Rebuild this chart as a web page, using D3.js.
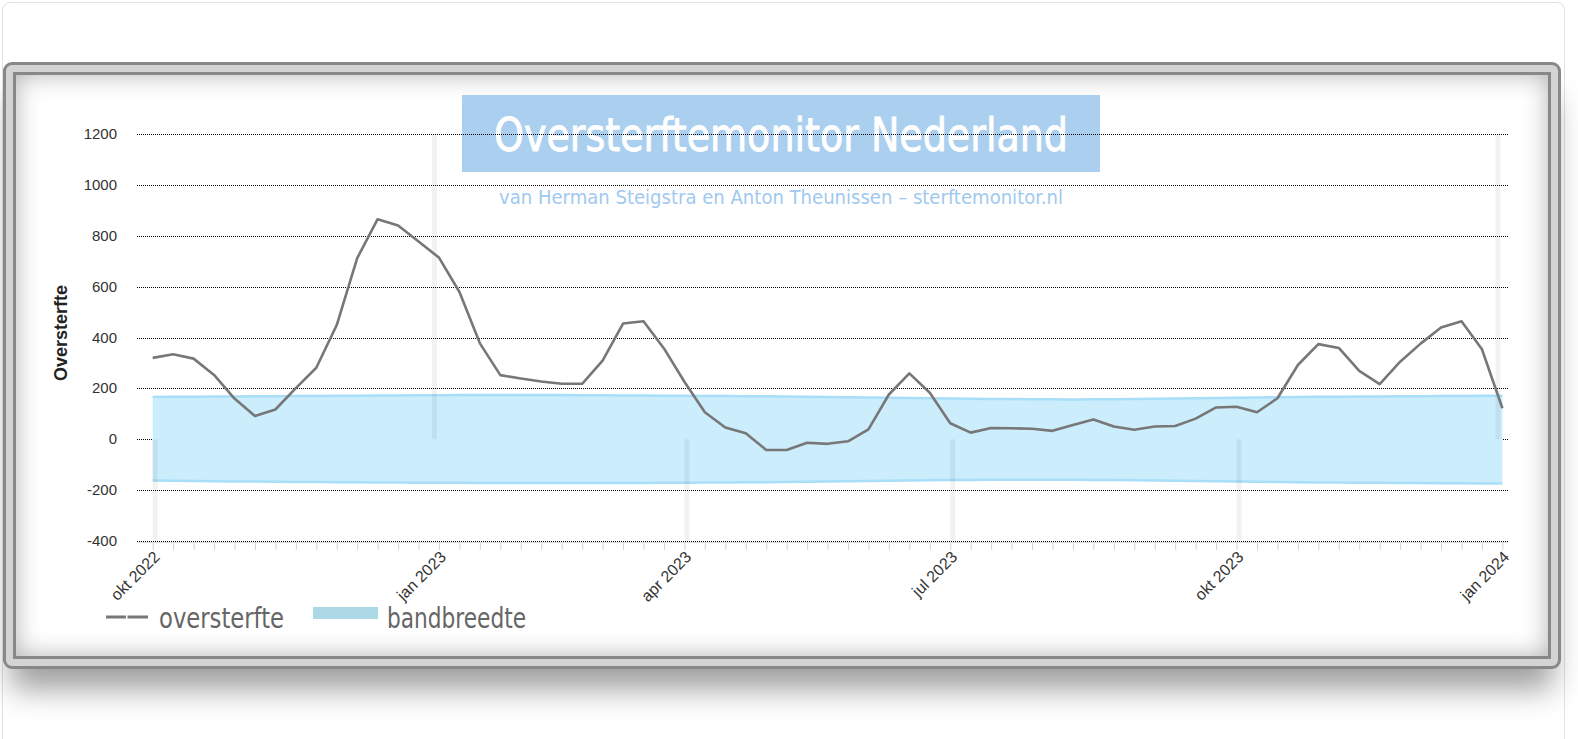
<!DOCTYPE html>
<html lang="nl">
  <head>
    <meta charset="UTF-8" />
    <script src="https://d3js.org/d3.v7.min.js"></script>
    <title>Oversterftemonitor Nederland</title>
    <style>
      html, body { margin: 0; padding: 0; background: #fff; }
      body { width: 1578px; height: 739px; position: relative; overflow: hidden; }
      .card {
        position: absolute; left: 2px; top: 2px; width: 1563px; height: 760px;
        border: 1px solid #e2e2e2; border-radius: 8px; box-sizing: border-box;
      }
      .frame {
        position: absolute; left: 3px; top: 62px; width: 1558px; height: 607px;
        box-sizing: border-box; border: 3px solid #888; border-radius: 9px;
        background: #d4d4d4; padding: 7px;
        box-shadow: 0 28px 30px -8px rgba(0, 0, 0, 0.38);
      }
      .inner {
        width: 100%; height: 100%; box-sizing: border-box;
        border: 3px solid #888; background: #fff;
        box-shadow: inset 0 0 24px rgba(0, 0, 0, 0.3);
      }
      #chart { position: absolute; left: 0; top: 0; }
    </style>
  </head>
  <body>
    <div class="card"></div>
    <div class="frame"><div class="inner"></div></div>
    <div id="chart"></div>
    <script>
      // weekly values, week 39 2022 .. week 1 2024
      const oversterfte = [
        320, 334, 317, 253, 160, 91, 117, 201, 281, 449,
        712, 865, 840, 777, 714, 579, 377, 252, 239, 227,
        218, 218, 309, 455, 464, 357, 226, 106, 46, 24,
        -42, -42, -14, -18, -8, 39, 176, 259, 183, 63,
        26, 44, 43, 41, 33, 56, 78, 50, 37, 50,
        52, 81, 125, 128, 106, 161, 292, 374, 359, 269,
        217, 305, 376, 439, 464, 354, 122
      ];
      const bandUpper = [
        166, 167, 167, 168, 168, 169, 169, 170, 170, 171,
        171, 172, 172, 173, 173, 174, 174, 174, 174, 174,
        174, 173, 173, 172, 172, 171, 171, 170, 170, 169,
        169, 168, 167, 166, 165, 164, 163, 162, 161, 160,
        159, 158, 158, 157, 157, 156, 157, 157, 158, 159,
        160, 161, 162, 163, 164, 165, 166, 167, 167, 168,
        168, 169, 169, 170, 170, 171, 171
      ];
      const bandLower = [
        -162, -163, -164, -165, -166, -166, -167, -168, -168, -169,
        -169, -170, -170, -171, -171, -171, -172, -172, -172, -172,
        -172, -172, -172, -172, -172, -171, -171, -170, -170, -169,
        -169, -168, -167, -166, -165, -164, -163, -162, -161, -160,
        -160, -159, -159, -159, -159, -159, -160, -160, -161, -162,
        -163, -164, -165, -166, -167, -168, -169, -170, -170, -171,
        -171, -172, -172, -173, -173, -174, -174
      ];
      const tickLabels = ["okt 2022", "jan 2023", "apr 2023", "jul 2023", "okt 2023", "jan 2024"];
      const tickWeeks = [0, 14, 26, 39, 53, 66];
      const yTicks = [-400, -200, 0, 200, 400, 600, 800, 1000, 1200];

      const W = 1578, H = 739;
      const svg = d3.select("#chart").append("svg")
        .attr("width", W).attr("height", H);

      const x = d3.scaleLinear().domain([0, oversterfte.length - 1]).range([152.7, 1502.4]);
      const y = d3.scaleLinear().domain([-400, 1200]).range([541, 134]);

      const narrow = "'Liberation Sans Narrow', 'DejaVu Sans Condensed', sans-serif";
      const arial = "'Liberation Sans', Arial, sans-serif";

      // title box
      svg.append("rect")
        .attr("x", 462).attr("y", 95).attr("width", 638).attr("height", 77)
        .attr("fill", "#abcfef");
      svg.append("text")
        .attr("x", 781).attr("y", 151)
        .attr("text-anchor", "middle")
        .attr("textLength", 574).attr("lengthAdjust", "spacingAndGlyphs")
        .style("font-family", narrow)
        .style("font-size", "47px").style("fill", "#fff")
        .style("stroke", "#fff").style("stroke-width", 0.8)
        .text("Oversterftemonitor Nederland");
      svg.append("text")
        .attr("x", 781).attr("y", 204)
        .attr("text-anchor", "middle")
        .attr("textLength", 564).attr("lengthAdjust", "spacingAndGlyphs")
        .style("font-family", narrow)
        .style("font-size", "20px").style("fill", "#9fc9ef")
        .text("van Herman Steigstra en Anton Theunissen \u2013 sterftemonitor.nl");

      // y gridlines + labels
      const yAxis = svg.append("g");
      yAxis.selectAll("line").data(yTicks).join("line")
        .attr("x1", 137).attr("x2", 1508)
        .attr("y1", d => Math.round(y(d)) + 0.5).attr("y2", d => Math.round(y(d)) + 0.5)
        .attr("stroke", "#000").attr("stroke-width", 1)
        .attr("shape-rendering", "crispEdges")
        .attr("stroke-dasharray", "1,1");
      yAxis.selectAll("text").data(yTicks).join("text")
        .attr("x", 117).attr("y", d => y(d) + 5)
        .attr("text-anchor", "end")
        .style("font-family", arial)
        .style("font-size", "15px").style("fill", "#333")
        .text(d => d);

      svg.append("text")
        .attr("transform", "translate(67, 333) rotate(-90)")
        .attr("text-anchor", "middle")
        .style("font-family", arial)
        .style("font-size", "18px").style("font-weight", "bold").style("fill", "#222")
        .text("Oversterfte");

      // x axis: weekly ticks, quarter labels
      const xAxis = d3.axisBottom(x)
        .tickValues(d3.range(oversterfte.length))
        .tickSize(8).tickFormat("");
      const gx = svg.append("g").attr("transform", "translate(0, 542)").call(xAxis);
      gx.select(".domain").remove();
      gx.selectAll(".tick line").attr("stroke", "#d4d4d4");
      svg.append("line")
        .attr("x1", 137).attr("x2", 1508).attr("y1", 542.5).attr("y2", 542.5)
        .attr("stroke", "#ddd").attr("stroke-width", 1);

      svg.append("g").selectAll("text").data(tickWeeks).join("text")
        .attr("transform", d => `translate(${x(d) + 8}, 558) rotate(-45)`)
        .attr("text-anchor", "end")
        .style("font-family", arial)
        .style("font-size", "16px").style("fill", "#333")
        .text((d, i) => tickLabels[i]);

      // band
      const area = d3.area()
        .x((d, i) => x(i))
        .y0((d, i) => y(bandLower[i]))
        .y1((d, i) => y(bandUpper[i]));
      svg.append("path").datum(oversterfte)
        .attr("d", area).attr("fill", "#cbedfc");
      const edge = arr => d3.line().x((d, i) => x(i)).y((d, i) => y(arr[i]));
      [bandUpper, bandLower].forEach(arr => {
        svg.append("path").datum(arr)
          .attr("d", edge(arr)).attr("fill", "none")
          .attr("stroke", "#a9def8").attr("stroke-width", 2.5);
      });

      // faint quarter markers
      svg.append("g").selectAll("rect").data(tickWeeks).join("rect")
        .attr("x", (d, i) => tickLabels[i].startsWith("jan") ? x(d) - 7 : x(d))
        .attr("width", 5)
        .attr("y", (d, i) => tickLabels[i].startsWith("jan") ? y(1200) : y(0))
        .attr("height", (d, i) => tickLabels[i].startsWith("jan") ? y(0) - y(1200) : y(-400) - y(0))
        .attr("fill", "#000").attr("opacity", 0.05);

      // oversterfte line
      svg.append("path").datum(oversterfte)
        .attr("d", d3.line().x((d, i) => x(i)).y(d => y(d)))
        .attr("fill", "none").attr("stroke", "#777").attr("stroke-width", 2.6)
        .attr("stroke-linejoin", "round");

      // legend
      const lg = svg.append("g");
      lg.append("line")
        .attr("x1", 106).attr("x2", 148).attr("y1", 617).attr("y2", 617)
        .attr("stroke", "#777").attr("stroke-width", 3)
        .attr("stroke-dasharray", "20,1.5,21");
      lg.append("text")
        .attr("x", 159).attr("y", 628)
        .attr("textLength", 125).attr("lengthAdjust", "spacingAndGlyphs")
        .style("font-family", narrow)
        .style("font-size", "28px").style("fill", "#666")
        .text("oversterfte");
      lg.append("rect")
        .attr("x", 313).attr("y", 607).attr("width", 65).attr("height", 12)
        .attr("fill", "#add8e6");
      lg.append("text")
        .attr("x", 387).attr("y", 628)
        .attr("textLength", 139).attr("lengthAdjust", "spacingAndGlyphs")
        .style("font-family", narrow)
        .style("font-size", "28px").style("fill", "#666")
        .text("bandbreedte");
    </script>
  </body>
</html>
